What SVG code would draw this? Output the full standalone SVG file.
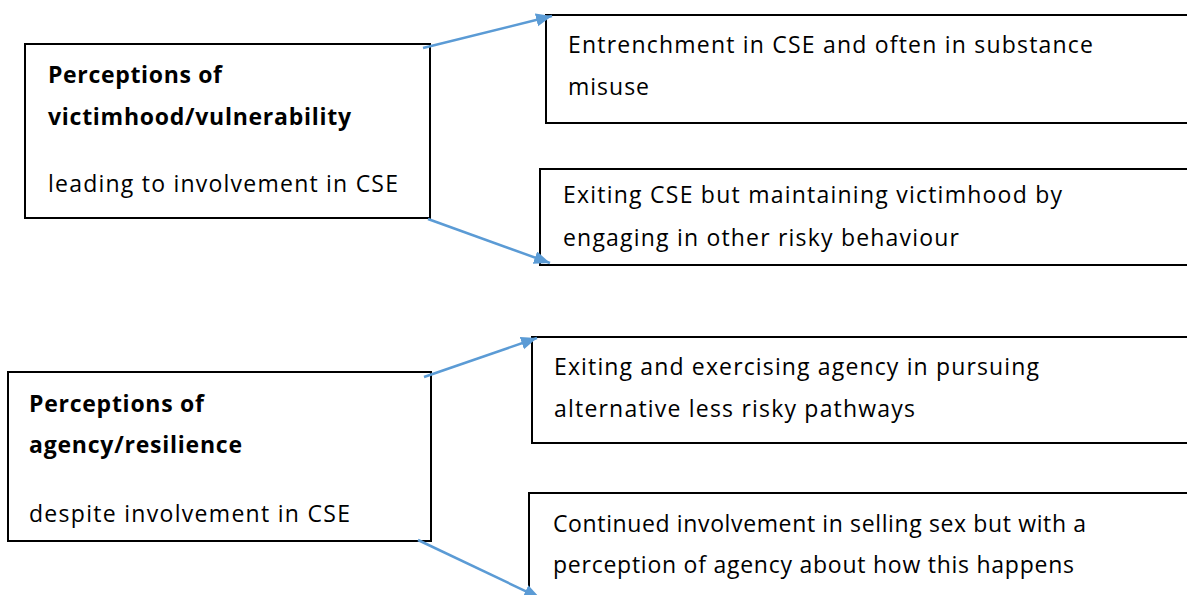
<svg xmlns="http://www.w3.org/2000/svg" width="1187" height="595" viewBox="0 0 1187 595">
<defs>
<style>
.box{fill:#fff;stroke:#000;stroke-width:2}
.t{font-family:"Open Sans","Liberation Sans",sans-serif;font-size:23px;fill:#000}
.b{font-weight:bold}
.con{stroke:#5B9BD5;stroke-width:2.5;fill:none;marker-end:url(#ah)}
</style>
<marker id="ah" markerUnits="userSpaceOnUse" markerWidth="18" markerHeight="14" refX="16" refY="6.5" orient="auto">
<path d="M0,0 L16,6.5 L0,13 z" fill="#5B9BD5"/>
</marker>
</defs>
<rect width="1187" height="595" fill="#fff"/>
<g id="node-victimhood">
<rect class="box" x="25" y="44" width="405" height="174"/>
<text class="t b" x="48" y="83" textLength="174" lengthAdjust="spacing">Perceptions of</text>
<text class="t b" x="48" y="125" textLength="303" lengthAdjust="spacing">victimhood/vulnerability</text>
<text class="t" x="48" y="192" textLength="350" lengthAdjust="spacing">leading to involvement in CSE</text>
</g>
<g id="node-entrenchment">
<rect class="box" x="546" y="15" width="660" height="108"/>
<text class="t" x="568" y="53" textLength="525" lengthAdjust="spacing">Entrenchment in CSE and often in substance</text>
<text class="t" x="568" y="95" textLength="81" lengthAdjust="spacing">misuse</text>
</g>
<g id="node-exiting-victimhood">
<rect class="box" x="540" y="169" width="666" height="96"/>
<text class="t" x="563" y="203" textLength="499" lengthAdjust="spacing">Exiting CSE but maintaining victimhood by</text>
<text class="t" x="563" y="246" textLength="396" lengthAdjust="spacing">engaging in other risky behaviour</text>
</g>
<g id="node-agency">
<rect class="box" x="8" y="372" width="423" height="169"/>
<text class="t b" x="29" y="412" textLength="175" lengthAdjust="spacing">Perceptions of</text>
<text class="t b" x="29" y="453" textLength="213" lengthAdjust="spacing">agency/resilience</text>
<text class="t" x="29" y="522" textLength="321" lengthAdjust="spacing">despite involvement in CSE</text>
</g>
<g id="node-exiting-agency">
<rect class="box" x="532" y="337" width="674" height="106"/>
<text class="t" x="554" y="375" textLength="485" lengthAdjust="spacing">Exiting and exercising agency in pursuing</text>
<text class="t" x="554" y="417" textLength="361" lengthAdjust="spacing">alternative less risky pathways</text>
</g>
<g id="node-continued">
<rect class="box" x="529" y="493" width="677" height="120"/>
<text class="t" x="553" y="532" textLength="533" lengthAdjust="spacing">Continued involvement in selling sex but with a</text>
<text class="t" x="553" y="573" textLength="521" lengthAdjust="spacing">perception of agency about how this happens</text>
</g>
<g id="connectors">
<line class="con" x1="423" y1="48" x2="552" y2="16"/>
<line class="con" x1="428" y1="219" x2="550" y2="263"/>
<line class="con" x1="424" y1="377" x2="537" y2="338"/>
<line class="con" x1="418" y1="540" x2="540" y2="598"/>
</g>
</svg>
